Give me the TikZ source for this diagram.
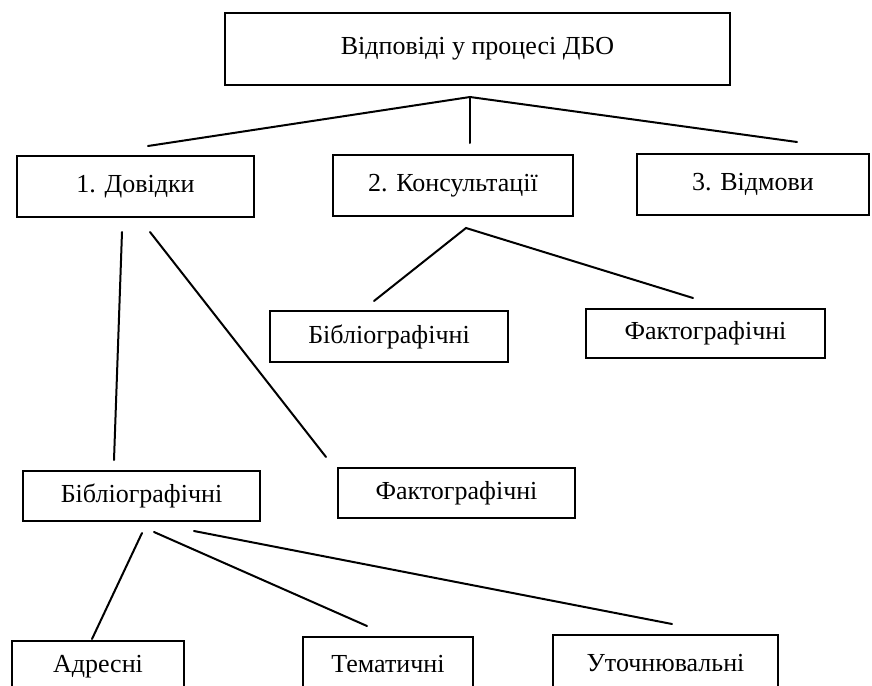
\documentclass[tikz,border=0pt]{standalone}
\usepackage{fontspec}
\setmainfont{Liberation Serif}
\begin{document}
\begin{tikzpicture}[x=1pt,y=-1pt,
  box/.style={draw, line width=2pt, inner sep=0pt, rectangle,
    font=\fontsize{26}{30}\selectfont},
  link/.style={line width=2pt, line cap=round}]
\useasboundingbox (0,0) rectangle (872,685);
\clip (0,0) rectangle (872,685);
% boxes
\node[box, minimum width=505pt, minimum height=72pt] (top) at (477.5,49) {Відповіді у процесі ДБО};
\node[box, minimum width=237pt, minimum height=61pt] (n1) at (135.5,186.5) {1. Довідки};
\node[box, minimum width=240pt, minimum height=61pt] (n2) at (453,185.5) {2. Консультації};
\node[box, minimum width=232pt, minimum height=61pt] (n3) at (753,184.5) {3. Відмови};
\node[box, minimum width=238pt, minimum height=51pt] (m1) at (389,336.5) {Бібліографічні};
\node[box, minimum width=239pt, minimum height=49pt] (m2) at (705.5,333.5) {Фактографічні};
\node[box, minimum width=237pt, minimum height=50pt] (l1) at (141.5,496) {Бібліографічні};
\node[box, minimum width=237pt, minimum height=50pt] (l2) at (456.5,493) {Фактографічні};
\node[box, minimum width=172pt, minimum height=52pt] (b1) at (98,667) {Адресні};
\node[box, minimum width=170pt, minimum height=54pt] (b2) at (388,664) {Тематичні};
\node[box, minimum width=225pt, minimum height=56pt] (b3) at (665.5,663) {Уточнювальні};
% connector points
\coordinate (j0) at (470,97);
\coordinate (e1) at (148,146);
\coordinate (e2) at (470,143);
\coordinate (e3) at (797,142);
\coordinate (s1a) at (122,232);
\coordinate (t1a) at (114,460);
\coordinate (s1b) at (150,232);
\coordinate (t1b) at (326,457);
\coordinate (j2) at (466,228);
\coordinate (t2a) at (374,301);
\coordinate (t2b) at (693,298);
\coordinate (s3a) at (142,533);
\coordinate (t3a) at (92,639);
\coordinate (s3b) at (154,532);
\coordinate (t3b) at (367,626);
\coordinate (s3c) at (194,531);
\coordinate (t3c) at (672,624);
% connectors
\draw[link] (e1) -- (j0) -- (e3);
\draw[link] (j0) -- (e2);
\draw[link] (s1a) -- (t1a);
\draw[link] (s1b) -- (t1b);
\draw[link] (t2a) -- (j2) -- (t2b);
\draw[link] (s3a) -- (t3a);
\draw[link] (s3b) -- (t3b);
\draw[link] (s3c) -- (t3c);
\end{tikzpicture}
\end{document}
